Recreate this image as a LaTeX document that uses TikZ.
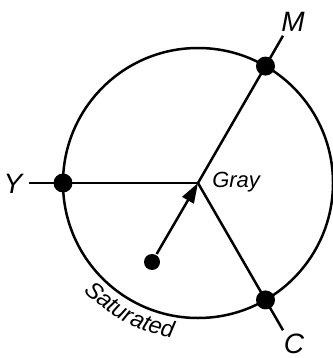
\documentclass[tikz,border=0pt]{standalone}
\usepackage{fontspec}
\setmainfont{Liberation Sans}
\usetikzlibrary{arrows.meta,decorations.text}
\newcommand\ringfont{\fontsize{22}{25}\selectfont\itshape}
\newcommand\satfont{\fontsize{23.5}{26}\selectfont\itshape}
\newcommand\axisfont{\fontsize{28}{32}\selectfont\itshape}

\begin{document}
\begin{tikzpicture}[
  x=1pt,y=1pt,
  line width=2.5pt,
  bigdot/.style={circle,fill=black,inner sep=0pt,minimum size=19pt},
  smalldot/.style={circle,fill=black,inner sep=0pt,minimum size=16pt},
  axislabel/.style={font=\axisfont,inner sep=0pt},
  arrow/.style={-{Triangle[length=20pt,width=13pt]}}
]
\useasboundingbox (0,0) rectangle (332,-358);

\coordinate (gray) at (198,-183);
\draw (gray) circle[radius=135];

\coordinate (yend) at ([shift={(180:169)}]gray);
\coordinate (mend) at ([shift={(60:170)}]gray);
\coordinate (cend) at ([shift={(-60:170)}]gray);

\draw (yend) -- (gray);
\draw (mend) -- (gray);
\draw (cend) -- (gray);

\node[bigdot] (yellow) at ([shift={(180:135)}]gray) {};
\node[bigdot] (magenta) at ([shift={(60:135)}]gray) {};
\node[bigdot] (cyan) at ([shift={(-60:135)}]gray) {};
\node[smalldot] (color) at (152,-262) {};

\draw[arrow] (color) -- (gray);

\node[axislabel] (ylabel) at (13,-184) {Y};
\node[axislabel] (mlabel) at (293,-22) {M};
\node[axislabel] (clabel) at (294,-344) {C};
\node[font=\ringfont,anchor=base west,inner sep=0pt] (graylabel) at (211,-187) {Gray};

\path[decorate,decoration={text along path,text align=center,
  text={|\satfont|Saturated}}]
  ([shift={(212:157)}]gray) arc[start angle=212,end angle=272,radius=157];
\end{tikzpicture}
\end{document}
